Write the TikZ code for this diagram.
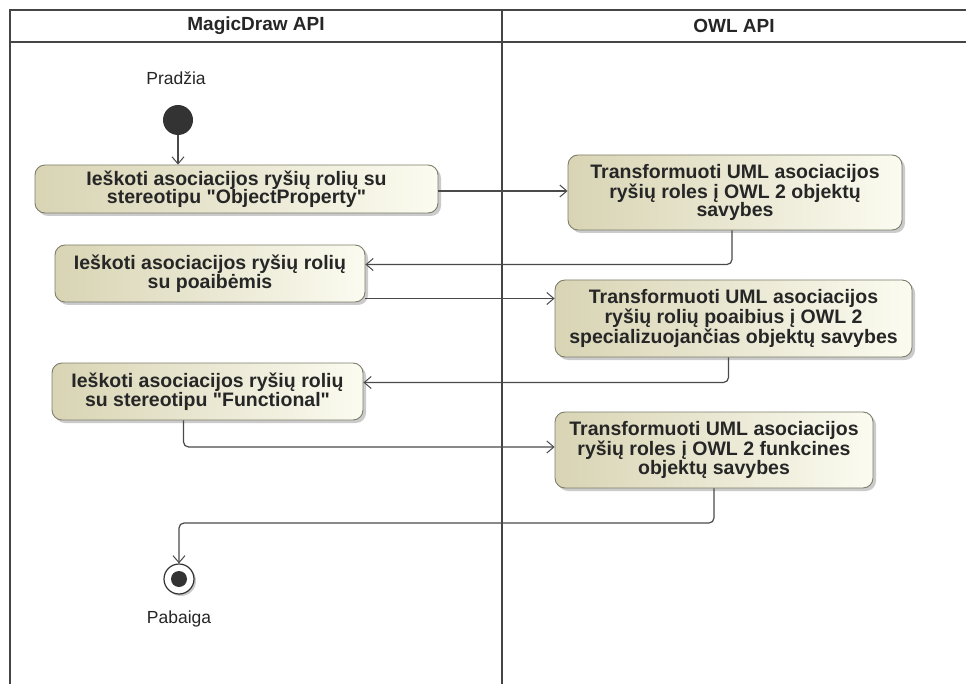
\documentclass[tikz,border=0pt]{standalone}
\usepackage{fontspec}
\setmainfont{Liberation Sans}[Ligatures=TeXOff]
\usetikzlibrary{arrows.meta,shadows,calc}

\definecolor{laneline}{HTML}{454545}
\definecolor{edgeline}{HTML}{4A4A4A}
\definecolor{boxline}{HTML}{7E7E6C}
\definecolor{boxdark}{HTML}{D8D4B4}
\definecolor{boxlight}{HTML}{FBFBF0}
\definecolor{nodefill}{HTML}{333333}

\tikzset{
  lanes/.style={draw=laneline, line width=2.5pt},
  lanetitle/.style={font=\fontsize{19}{19}\selectfont\bfseries, text=black!85},
  action/.style={draw=boxline, line width=0.9pt, rounded corners=10pt,
    left color=boxdark, right color=boxlight, inner sep=0pt,
    align=center, font=\fontsize{19.5}{18.5}\selectfont\bfseries, text=black!85,
    drop shadow={shadow xshift=3pt, shadow yshift=-3pt, fill=black!40, opacity=0.5}},
  flow/.style={draw=edgeline, line width=1.2pt, rounded corners=5pt,
    -{Straight Barb[length=7pt,width=12pt,line width=1pt]}},
  caption/.style={font=\fontsize{17.5}{18}\selectfont, text=black!85},
}

\begin{document}
\begin{tikzpicture}[x=1pt,y=-1pt]
\useasboundingbox (0,0) rectangle (966,684);
\fill[white] (0,0) rectangle (966,684);

% swimlane frame
\draw[lanes] (10,684) -- (10,10) -- (966,10);
\draw[lanes] (10,42) -- (966,42);
\draw[lanes] (502,10) -- (502,684);
\node[lanetitle] (laneA) at (256,26) {MagicDraw API};
\node[lanetitle] (laneB) at (734,26) {OWL API};

% initial and final nodes
\node[caption] (startlbl) at (176,78) {Pradžia};
\node[circle, fill=nodefill, minimum size=30pt, inner sep=0pt] (start) at (178,120) {};
\node[circle, draw=nodefill, line width=1.2pt, fill=white, minimum size=30pt, inner sep=0pt,
  drop shadow={shadow xshift=2pt, shadow yshift=-2pt, fill=black!40, opacity=0.5}] (final) at (179,579) {};
\fill[nodefill] (final) circle (8);
\node[caption] (finallbl) at (179,619) {Pabaiga};

% actions
\node[action, minimum width=403pt, minimum height=48pt] (a1) at (236.5,189)
  {Ieškoti asociacijos ryšių rolių su\\stereotipu "ObjectProperty"};
\node[action, minimum width=334pt, minimum height=75pt] (t1) at (735,192.5)
  {Transformuoti UML asociacijos\\ryšių roles į OWL 2 objektų\\savybes};
\node[action, minimum width=310pt, minimum height=57pt] (a2) at (210,273.5)
  {Ieškoti asociacijos ryšių rolių\\su poaibėmis};
\node[action, minimum width=357pt, minimum height=77pt] (t2) at (733.5,318.5)
  {Transformuoti UML asociacijos\\ryšių rolių poaibius į OWL 2\\specializuojančias objektų savybes};
\node[action, minimum width=311pt, minimum height=57pt] (a3) at (207.5,391.5)
  {Ieškoti asociacijos ryšių rolių\\su stereotipu "Functional"};
\node[action, minimum width=318pt, minimum height=76pt] (t3) at (714,450)
  {Transformuoti UML asociacijos\\ryšių roles į OWL 2 funkcines\\objektų savybes};

\coordinate (bend) at (0,523);

% control flows
\draw[flow] (start.south) -- (start.south |- a1.north);
\draw[flow] ([yshift=-2pt]a1.east) -- ([yshift=-2pt]a1.east -| t1.west);
\draw[flow] ([xshift=-3pt]t1.south) |- ([yshift=9pt]a2.east);
\draw[flow] ([yshift=-25pt]a2.east) -- ([yshift=-25pt]a2.east -| t2.west);
\draw[flow] ([xshift=-5pt]t2.south) |- ([yshift=9pt]a3.east);
\draw[flow] ([xshift=-24pt]a3.south) |- ([yshift=3pt]t3.west);
\draw[flow] (t3.south) -- (t3.south |- bend) -| (final.north);
\end{tikzpicture}
\end{document}
